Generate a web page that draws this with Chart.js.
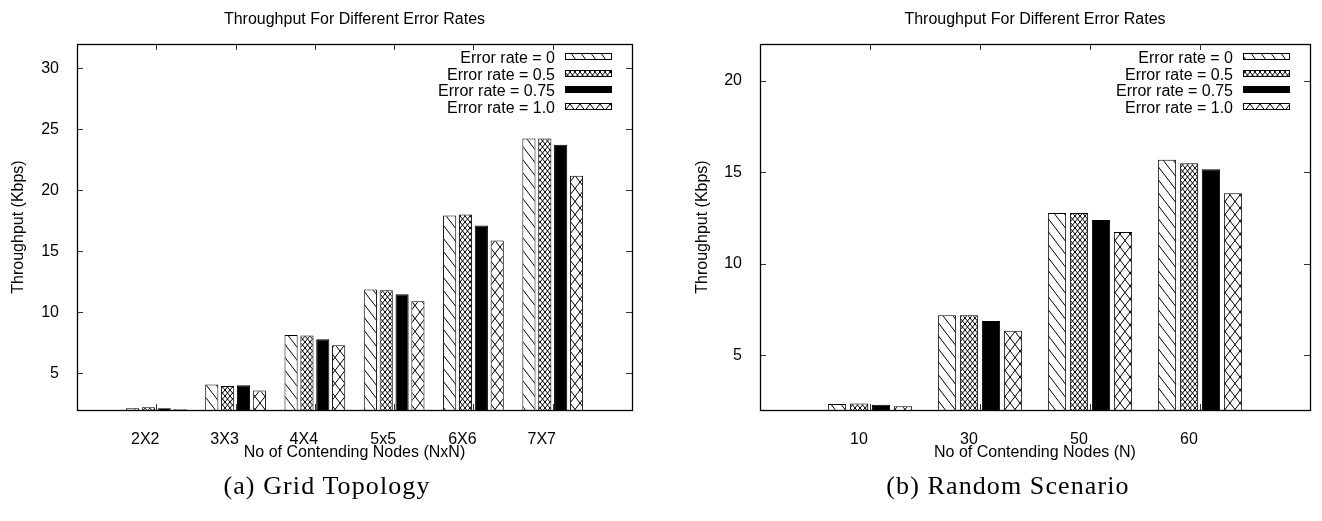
<!DOCTYPE html>
<html>
<head>
<meta charset="utf-8">
<script src="https://cdn.jsdelivr.net/npm/chart.js@4.4.0/dist/chart.umd.min.js"></script>
<style>
  html, body { margin: 0; padding: 0; background: #fff; }
  #page { position: relative; width: 1322px; height: 521px; overflow: hidden; }
  .box { position: absolute; top: 0; }
  .caption {
    position: absolute; top: 471px; width: 400px; text-align: center;
    font-family: 'Liberation Serif', serif; font-size: 26px; letter-spacing: 1.1px; color: #000;
  }
</style>
</head>
<body>
<div id="page">
  <div class="box" style="left:0"><canvas id="gridChart" width="660" height="521"></canvas></div>
  <div class="box" style="left:660px"><canvas id="randomChart" width="662" height="521"></canvas></div>
  <div class="caption" style="left:127px">(a) Grid Topology</div>
  <div class="caption" style="left:808px">(b) Random Scenario</div>
</div>
<script>
'use strict';

// grid topology (NxN nodes)
let gridNodes = ['2X2', '3X3', '4X4', '5x5', '6X6', '7X7'];
let gridErr0 = [2.14, 4.1, 8.15, 11.87, 17.95, 24.25];
let gridErr05 = [2.22, 3.96, 8.1, 11.82, 18.02, 24.25];
let gridErr075 = [2.15, 4.02, 7.8, 11.48, 17.12, 23.75];
let gridErr1 = [2.06, 3.6, 7.3, 10.92, 15.9, 21.2];
let gridTicks = [5, 10, 15, 20, 25, 30];

// random scenario (N nodes)
let randNodes = ['10', '30', '50', '60'];
let randErr0 = [2.33, 7.18, 12.76, 15.67];
let randErr05 = [2.36, 7.18, 12.76, 15.48];
let randErr075 = [2.29, 6.86, 12.38, 15.16];
let randErr1 = [2.2, 6.33, 11.73, 13.85];
let randTicks = [5, 10, 15, 20];

let seriesNames = ['Error rate = 0', 'Error rate = 0.5', 'Error rate = 0.75', 'Error rate = 1.0'];

Chart.defaults.font.family = '"Liberation Sans", Arial, sans-serif';
Chart.defaults.font.size = 16;
Chart.defaults.color = '#000';

// hatch fills
function makePattern(w, h, draw) {
  let c = document.createElement('canvas');
  c.width = w;
  c.height = h;
  let g = c.getContext('2d');
  g.fillStyle = '#fff';
  g.fillRect(0, 0, w, h);
  g.strokeStyle = '#000';
  g.lineWidth = 1;
  g.beginPath();
  draw(g, w, h);
  g.stroke();
  return g.createPattern(c, 'repeat');
}
function backLines(g, w, h) {
  for (let k = -1; k <= 1; k++) {
    g.moveTo(k * w - w, -h);
    g.lineTo(k * w + 2 * w, 2 * h);
  }
}
function fwdLines(g, w, h) {
  for (let k = -1; k <= 1; k++) {
    g.moveTo(k * w - w, 2 * h);
    g.lineTo(k * w + 2 * w, -h);
  }
}
let fills = [
  makePattern(10, 13, backLines),
  makePattern(5, 6, (g, w, h) => { backLines(g, w, h); fwdLines(g, w, h); }),
  '#000',
  makePattern(10, 13, (g, w, h) => { backLines(g, w, h); fwdLines(g, w, h); })
];

// frame, inward ticks and key, gnuplot style
const framePlugin = {
  id: 'frame',
  beforeDatasetsDraw(chart) {
    const { ctx, chartArea: a, scales } = chart;
    ctx.save();
    ctx.strokeStyle = '#333';
    ctx.lineWidth = 1;
    ctx.beginPath();
    scales.y.ticks.forEach(t => {
      let py = Math.round(scales.y.getPixelForValue(t.value)) + 0.5;
      ctx.moveTo(a.left, py); ctx.lineTo(a.left + 6, py);
      ctx.moveTo(a.right, py); ctx.lineTo(a.right - 6, py);
    });
    chart.data.labels.forEach((lab, i) => {
      if (!lab) return;
      let px = Math.round(scales.x.getPixelForValue(i)) + 0.5;
      ctx.moveTo(px, a.top); ctx.lineTo(px, a.top + 6);
      ctx.moveTo(px, a.bottom); ctx.lineTo(px, a.bottom - 6);
    });
    ctx.stroke();
    ctx.restore();
  },
  afterDatasetsDraw(chart) {
    const { ctx, chartArea: a } = chart;
    ctx.save();
    ctx.strokeStyle = '#000';
    ctx.lineWidth = 1.3;
    ctx.strokeRect(Math.round(a.left) + 0.5, Math.round(a.top) + 0.5,
      Math.round(a.right - a.left), Math.round(a.bottom - a.top));

    ctx.font = '16px "Liberation Sans", Arial, sans-serif';
    ctx.textAlign = 'right';
    ctx.textBaseline = 'middle';
    ctx.lineWidth = 1;
    chart.data.datasets.forEach((ds, i) => {
      let y = Math.round(a.top + 14 + i * 16.7);
      let sx = Math.round(a.right) - 20 - 47;
      ctx.fillStyle = ds.backgroundColor;
      ctx.fillRect(sx, y - 5, 47, 7);
      ctx.strokeRect(sx + 0.5, y - 4.5, 46, 6);
      ctx.fillStyle = '#000';
      ctx.fillText(ds.label, sx - 10, y + 1);
    });
    ctx.restore();
  }
};

function drawChart(id, nodes, values, opt) {
  // an empty slot on each side keeps a full group width of margin
  let labels = [''].concat(nodes, ['']);
  let datasets = values.map((vals, i) => ({
    label: seriesNames[i],
    data: [null].concat(vals, [null]),
    backgroundColor: fills[i],
    borderColor: '#000',
    borderWidth: 1,
    base: opt.yMin,
    categoryPercentage: 0.8,
    barPercentage: 0.83
  }));

  return new Chart(document.getElementById(id), {
    type: 'bar',
    data: { labels: labels, datasets: datasets },
    plugins: [framePlugin],
    options: {
      responsive: false,
      animation: false,
      layout: { padding: { left: 0, right: opt.padRight, top: 0, bottom: 51 } },
      plugins: { legend: { display: false }, tooltip: { enabled: false } },
      scales: {
        x: {
          offset: false,
          grid: { display: false },
          border: { display: false },
          ticks: { autoSkip: false, maxRotation: 0, padding: 12, labelOffset: -11 },
          afterFit: s => { s.height = 60; },
          title: { display: true, text: opt.xTitle, padding: { top: 0, bottom: 8 } }
        },
        xTop: {
          type: 'category',
          position: 'top',
          grid: { display: false },
          border: { display: false },
          ticks: { display: false },
          afterFit: s => { s.height = 44; },
          title: { display: true, text: 'Throughput For Different Error Rates', padding: { top: 10.4, bottom: 0 } }
        },
        y: {
          min: opt.yMin,
          max: opt.yMax,
          afterBuildTicks: s => { s.ticks = opt.yTicks.map(v => ({ value: v })); },
          afterFit: s => { s.width = opt.yWidth; },
          grid: { display: false },
          border: { display: false },
          ticks: { padding: 10 },
          title: { display: true, text: 'Throughput (Kbps)', padding: { top: opt.yTitlePad, bottom: 0 } }
        }
      }
    }
  });
}

drawChart('gridChart', gridNodes, [gridErr0, gridErr05, gridErr075, gridErr1], {
  yMin: 2, yMax: 32, yTicks: gridTicks, yWidth: 77, yTitlePad: 9.4, padRight: 28,
  xTitle: 'No of Contending Nodes (NxN)'
});

drawChart('randomChart', randNodes, [randErr0, randErr05, randErr075, randErr1], {
  yMin: 2, yMax: 22, yTicks: randTicks, yWidth: 100, yTitlePad: 33.4, padRight: 7,
  xTitle: 'No of Contending Nodes (N)'
});
</script>
</body>
</html>
